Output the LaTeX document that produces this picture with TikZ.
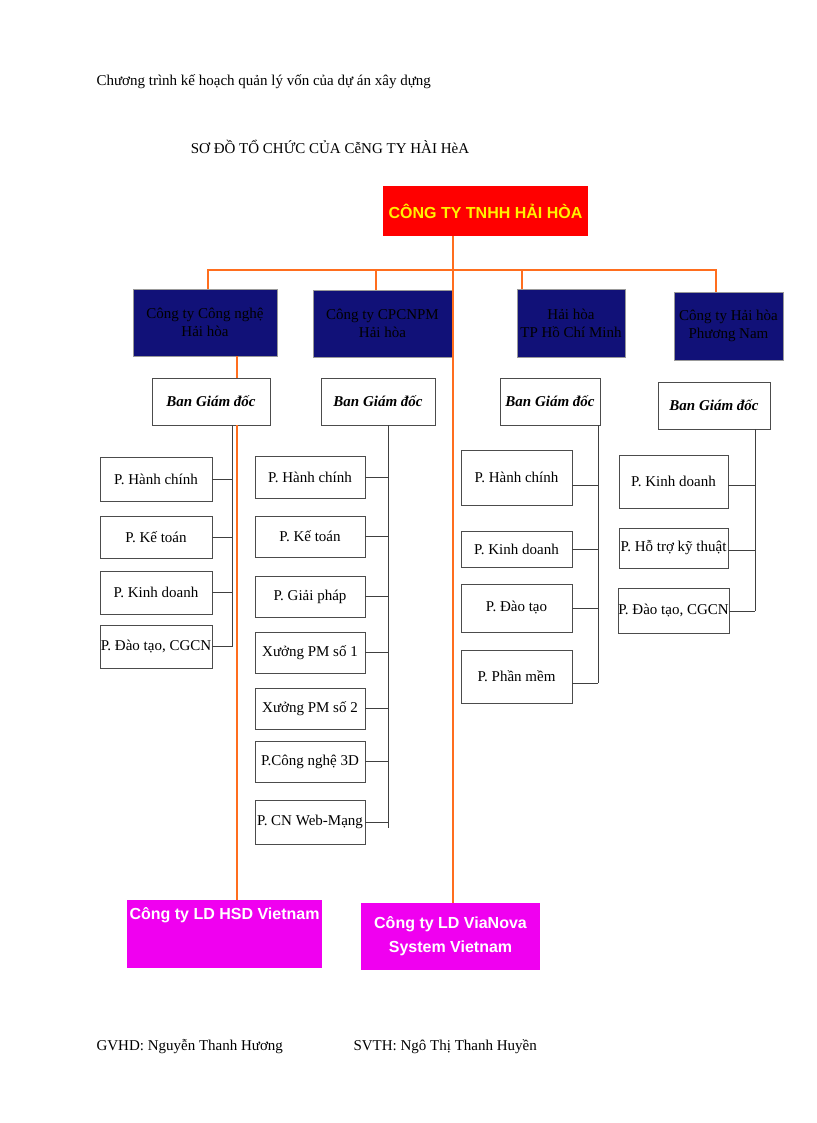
\documentclass[tikz,border=0pt]{standalone}
\usepackage{fontspec}
\setmainfont{Liberation Serif}
\setsansfont{Liberation Sans}
\begin{document}
\begin{tikzpicture}[x=1pt,y=-1pt,
 box/.style={draw=black!70,fill=white,align=center,font=\fontsize{15}{18}\selectfont,inner sep=0},
 blue/.style={draw=black!40,fill={rgb,255:red,17;green,17;blue,120},align=center,font=\fontsize{15}{18}\selectfont,text=black,inner sep=0},
 mag/.style={fill={rgb,255:red,240;green,0;blue,240},align=center,text=white,font=\sffamily\bfseries\fontsize{16}{24}\selectfont,inner sep=0},
 org/.style={draw={rgb,255:red,255;green,110;blue,30},line width=2.2pt},
 blk/.style={draw=black!75,line width=1pt}]
\useasboundingbox (0,0) rectangle (816,1123);
\node[anchor=west,font=\fontsize{15}{18}\selectfont] (t1) at (93,82) {Chương trình kế hoạch quản lý vốn của dự án xây dựng};
\node[font=\fontsize{15}{18}\selectfont] (t2) at (330,147) {SƠ ĐỒ TỔ CHỨC CỦA CễNG TY HÀI HèA};
\node[fill=red,text=yellow,font=\sffamily\bfseries\fontsize{16}{18}\selectfont,minimum width=205,minimum height=50] (top) at (485.5,211) {CÔNG TY TNHH HẢI HÒA};
% company boxes
\node[blue,minimum width=144,minimum height=67] (b1) at (205,322.5) {Công ty Công nghệ\\Hải hòa};
\node[blue,minimum width=139,minimum height=67] (b2) at (382.5,323.5) {Công ty CPCNPM\\Hải hòa};
\node[blue,minimum width=108,minimum height=68] (b3) at (571,323) {Hải hòa\\TP Hồ Chí Minh};
\node[blue,minimum width=109,minimum height=68] (b4) at (728.5,326) {Công ty Hải hòa\\Phương Nam};
% orange connectors
\coordinate (j0) at (453,270);
\coordinate (jl) at (208,270);
\coordinate (jr) at (716,270);
\draw[org] (top.south -| j0) -- (j0);
\draw[org] (jl |- b1.north) -- (jl) -- (jr) -- (jr |- b4.north);
\draw[org] (376,270) -- (376,290);
\draw[org] (522,270) -- (522,289);
\draw[org] (j0) -- (453,903);
% directors
\node[box,font=\bfseries\itshape\fontsize{15}{18}\selectfont,minimum width=118,minimum height=47] (g1) at (211,401.5) {Ban Giám đốc};
\node[box,font=\bfseries\itshape\fontsize{15}{18}\selectfont,minimum width=114,minimum height=47] (g2) at (378,401.5) {Ban Giám đốc};
\node[box,font=\bfseries\itshape\fontsize{15}{18}\selectfont,minimum width=100,minimum height=47] (g3) at (550,401.5) {Ban Giám đốc};
\node[box,font=\bfseries\itshape\fontsize{15}{18}\selectfont,minimum width=112,minimum height=47] (g4) at (714,405.5) {Ban Giám đốc};
\draw[org] (237,356) -- (237,378);
\draw[org] (237,425) -- (237,900);
% group 1
\foreach \n/\t/\a/\b in {a/{P. Hành chính}/457/501,b/{P. Kế toán}/516/558,c/{P. Kinh doanh}/571/614,d/{P. Đào tạo, CGCN}/625/668}{
 \node[box,minimum width=112,minimum height=\b-\a] (p1\n) at (156,{(\a+\b)/2}) {\t};
 \draw[blk] (p1\n.east) -- (232,{(\a+\b)/2});}
\draw[blk] (232,425) -- (232,646.5);
% group 2
\foreach \n/\t/\a/\b in {a/{P. Hành chính}/456/498,b/{P. Kế toán}/516/557,c/{P. Giải pháp}/576/617,d/{Xưởng PM số 1}/632/673,e/{Xưởng PM số 2}/688/729,f/{P.Công nghệ  3D}/741/782,g/{P. CN Web-Mạng}/800/844}{
 \node[box,minimum width=110,minimum height=\b-\a] (p2\n) at (310,{(\a+\b)/2}) {\t};
 \draw[blk] (p2\n.east) -- (388,{(\a+\b)/2});}
\draw[blk] (388,425) -- (388,828);
% group 3
\foreach \n/\t/\a/\b/\s in {a/{P. Hành chính}/450/505/485,b/{P. Kinh doanh}/531/567/549,c/{P. Đào tạo}/584/632/608,d/{P. Phần mềm}/650/703/683}{
 \node[box,minimum width=111,minimum height=\b-\a] (p3\n) at (516.5,{(\a+\b)/2}) {\t};
 \draw[blk] (p3\n.east |- 0,\s) -- (598,\s);}
\draw[blk] (598,425) -- (598,683);
% group 4
\foreach \n/\t/\a/\b/\s in {a/{P. Kinh doanh}/455/508/485,b/{P. Hỗ trợ kỹ thuật}/528/568/550,c/{P. Đào tạo, CGCN}/588/633/611}{
 \node[box,minimum width=109,minimum height=\b-\a] (p4\n) at (673.5,{(\a+\b)/2}) {\t};
 \draw[blk] (p4\n.east |- 0,\s) -- (755,\s);}
\draw[blk] (755,429) -- (755,611);
% magenta boxes
\node[mag,minimum width=195,minimum height=68] (h1) at (224.5,934) {Công ty LD HSD Vietnam\\[16pt]};
\node[mag,minimum width=179,minimum height=67] (h2) at (450.5,936.5) {Công ty LD ViaNova\\System Vietnam};
% footer
\node[anchor=west,font=\fontsize{15}{18}\selectfont] (f1) at (93,1047) {GVHD: Nguyễn Thanh Hương};
\node[anchor=west,font=\fontsize{15}{18}\selectfont] (f2) at (350,1047) {SVTH: Ngô Thị Thanh Huyền};
\end{tikzpicture}
\end{document}
